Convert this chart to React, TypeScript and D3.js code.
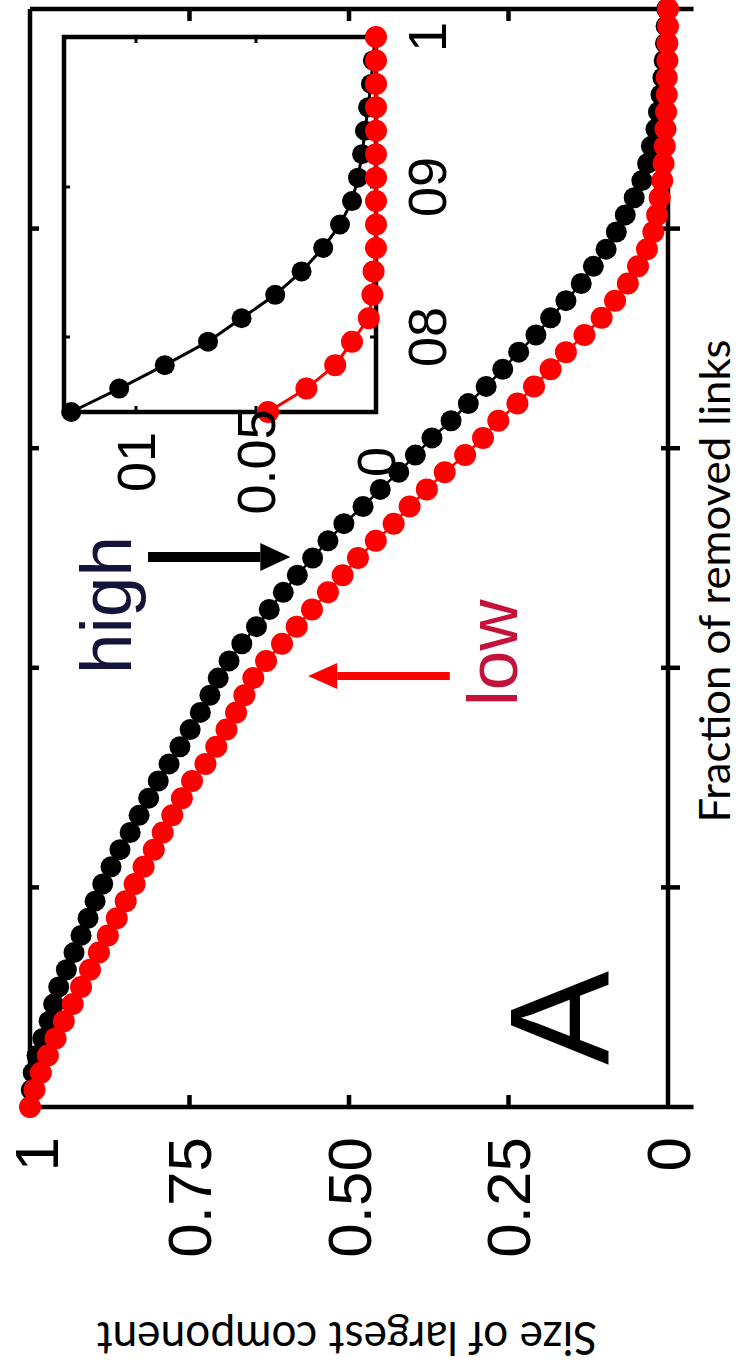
import React, { useEffect, useRef } from "react";
import * as d3 from "d3";

// percolation curves, sampled every 1/64 of removed links
const STEPS = 64;

const highSize = [
  1.0, 0.998, 0.995, 0.989, 0.98, 0.97, 0.963, 0.955, 0.943, 0.931,
  0.92, 0.909, 0.898, 0.886, 0.873, 0.859, 0.843, 0.829, 0.814, 0.799,
  0.782, 0.765, 0.749, 0.733, 0.718, 0.705, 0.688, 0.668, 0.645, 0.625,
  0.603, 0.581, 0.557, 0.533, 0.508, 0.478, 0.451, 0.422, 0.396, 0.37,
  0.34, 0.313, 0.285, 0.259, 0.234, 0.207, 0.184, 0.16, 0.136, 0.117,
  0.097, 0.081, 0.067, 0.053, 0.041, 0.032, 0.026, 0.019, 0.015, 0.011,
  0.008, 0.006, 0.004, 0.003, 0.002,
];

const lowSize = [
  1.0, 0.993, 0.983, 0.972, 0.96, 0.947, 0.933, 0.92, 0.906, 0.892,
  0.878, 0.864, 0.85, 0.836, 0.822, 0.806, 0.792, 0.777, 0.762, 0.746,
  0.725, 0.708, 0.692, 0.677, 0.664, 0.65, 0.63, 0.605, 0.582, 0.558,
  0.533, 0.51, 0.486, 0.458, 0.43, 0.405, 0.378, 0.35, 0.318, 0.29,
  0.266, 0.236, 0.21, 0.184, 0.16, 0.131, 0.104, 0.083, 0.063, 0.047,
  0.033, 0.023, 0.017, 0.013, 0.009, 0.007, 0.005, 0.004, 0.003, 0.002,
  0.002, 0.001, 0.001, 0.0, 0.0,
];

// inset: zoom on the tail, from 0.75 to 1
const INSET_START = 0.75;
const insetHigh = [
  0.127, 0.107, 0.088, 0.07, 0.056, 0.042, 0.031, 0.022, 0.015, 0.01,
  0.0075, 0.0058, 0.0046, 0.0033, 0.0021, 0.0013, 0.0004,
];
const insetLow = [
  0.045, 0.029, 0.017, 0.01, 0.003, 0.0015, 0.001, 0, 0, 0, 0, 0, 0, 0, 0, 0, 0,
];

const sizeTicks = [0, 0.25, 0.5, 0.75, 1];
const sizeTickLabels = ["0", "0.25", "0.50", "0.75", "1"];
const fracTicks = [0.2, 0.4, 0.6, 0.8];
const insetFracTicks = [0.8, 0.9, 1];
const insetFracLabels = ["08", "09", "1"];
const insetSizeTicks = [0, 0.05, 0.1];
const insetSizeLabels = ["0", "0.05", "01"];

const W = 741;
const H = 1371;
const RED = "#ff0000";

export default function App() {
  const ref = useRef<SVGSVGElement>(null);

  useEffect(() => {
    if (!ref.current) return;
    const svg = d3.select(ref.current);
    svg.selectAll("*").remove();

    // the figure is printed turned 90deg: size runs right->left, fraction bottom->top
    const size = d3.scaleLinear().domain([0, 1]).range([668, 30]);
    const frac = d3.scaleLinear().domain([0, 1]).range([1107, 9]);

    const axis = svg.append("g").attr("stroke", "#000").attr("stroke-width", 4.5);
    const x0 = size(1);
    const x1 = size(-0.04);
    axis.append("line").attr("x1", x0).attr("x2", x1).attr("y1", frac(0)).attr("y2", frac(0));
    axis.append("line").attr("x1", x0).attr("x2", x1).attr("y1", frac(1)).attr("y2", frac(1));
    axis.append("line").attr("x1", x0).attr("x2", x0).attr("y1", frac(0)).attr("y2", frac(1));
    axis.append("line").attr("x1", size(0)).attr("x2", size(0)).attr("y1", frac(0)).attr("y2", frac(1));

    sizeTicks.filter((v) => v > 0 && v < 1).forEach((v) => {
      axis.append("line").attr("x1", size(v)).attr("x2", size(v)).attr("y1", frac(0)).attr("y2", frac(0) - 12);
      axis.append("line").attr("x1", size(v)).attr("x2", size(v)).attr("y1", frac(1)).attr("y2", frac(1) + 12);
    });
    fracTicks.forEach((f) => {
      axis.append("line").attr("x1", x0).attr("x2", x0 + 9).attr("y1", frac(f)).attr("y2", frac(f));
      axis.append("line").attr("x1", size(0) - 7).attr("x2", size(0) + 12).attr("y1", frac(f)).attr("y2", frac(f));
    });

    // keep the "1" label inside the page edge
    svg
      .append("g")
      .selectAll("text")
      .data(sizeTicks)
      .join("text")
      .attr("transform", (v) => `translate(${Math.max(size(v), 36)},1137) rotate(-90)`)
      .attr("text-anchor", "end")
      .attr("dy", "0.35em")
      .attr("font-family", "Liberation Sans, Arial, sans-serif")
      .attr("font-size", 62)
      .text((_, i) => sizeTickLabels[i]);

    const drawSeries = (
      g: any,
      values: number[],
      start: number,
      xs: any,
      ys: any,
      color: string,
      r: number,
      lw: number
    ) => {
      const pts = values.map((v, i) => ({ f: start + i / STEPS, v }));
      const line = d3
        .line<{ f: number; v: number }>()
        .x((d) => xs(d.v))
        .y((d) => ys(d.f));
      g.append("path").attr("d", line(pts)).attr("fill", "none").attr("stroke", color).attr("stroke-width", lw);
      g.append("g")
        .selectAll("circle")
        .data(pts)
        .join("circle")
        .attr("cx", (d) => xs(d.v))
        .attr("cy", (d) => ys(d.f))
        .attr("r", r)
        .attr("fill", color);
    };

    const main = svg.append("g");
    drawSeries(main, highSize, 0, size, frac, "#000", 10.5, 2.5);
    drawSeries(main, lowSize, 0, size, frac, RED, 11, 2.5);

    // inset
    const iSize = d3.scaleLinear().domain([0, 0.13]).range([376, 64]);
    const iFrac = d3.scaleLinear().domain([INSET_START, 1]).range([412, 37]);
    const inset = svg.append("g");
    inset
      .append("rect")
      .attr("x", iSize(0.13))
      .attr("y", iFrac(1))
      .attr("width", iSize(0) - iSize(0.13))
      .attr("height", iFrac(INSET_START) - iFrac(1))
      .attr("fill", "#fff")
      .attr("stroke", "#000")
      .attr("stroke-width", 4.5);
    const iTicks = inset.append("g").attr("stroke", "#000").attr("stroke-width", 3);
    insetFracTicks.filter((f) => f < 1).forEach((f) => {
      iTicks.append("line").attr("x1", iSize(0.13)).attr("x2", iSize(0.13) + 6).attr("y1", iFrac(f)).attr("y2", iFrac(f));
      iTicks.append("line").attr("x1", iSize(0)).attr("x2", iSize(0) - 6).attr("y1", iFrac(f)).attr("y2", iFrac(f));
    });
    insetSizeTicks.filter((v) => v > 0).forEach((v) => {
      iTicks.append("line").attr("x1", iSize(v)).attr("x2", iSize(v)).attr("y1", iFrac(1)).attr("y2", iFrac(1) + 6);
      iTicks.append("line").attr("x1", iSize(v)).attr("x2", iSize(v)).attr("y1", iFrac(INSET_START)).attr("y2", iFrac(INSET_START) - 6);
    });
    drawSeries(inset, insetHigh, INSET_START, iSize, iFrac, "#000", 10, 3);
    drawSeries(inset, insetLow, INSET_START, iSize, iFrac, RED, 11, 3);

    inset
      .append("g")
      .selectAll("text")
      .data(insetFracTicks)
      .join("text")
      .attr("transform", (f) => `translate(427,${iFrac(f)}) rotate(-90)`)
      .attr("text-anchor", "middle")
      .attr("dy", "0.35em")
      .attr("font-family", "Liberation Sans, Arial, sans-serif")
      .attr("font-size", 54)
      .text((_, i) => insetFracLabels[i]);
    inset
      .append("g")
      .selectAll("text")
      .data(insetSizeTicks)
      .join("text")
      .attr("transform", (v) => `translate(${iSize(v)},462) rotate(-90)`)
      .attr("text-anchor", "middle")
      .attr("dy", "0.35em")
      .attr("font-family", "Liberation Sans, Arial, sans-serif")
      .attr("font-size", 54)
      .text((_, i) => insetSizeLabels[i]);

    // annotations
    const arrow = (f: number, from: number, to: number, color: string, w: number, head: number, half: number) => {
      const y = frac(f);
      const tip = size(to);
      const dir = Math.sign(size(to) - size(from));
      const base = tip - dir * head;
      svg.append("line").attr("x1", size(from)).attr("x2", base).attr("y1", y).attr("y2", y).attr("stroke", color).attr("stroke-width", w);
      svg.append("path").attr("d", `M${tip},${y}L${base},${y - half}L${base},${y + half}Z`).attr("fill", color);
    };
    arrow(0.501, 0.815, 0.592, "#000", 10, 30, 14);
    arrow(0.3925, 0.342, 0.564, RED, 8, 29, 13);

    const label = (t: string, x: number, y: number, fs: number, fill: string, anchor: string) =>
      svg
        .append("text")
        .attr("transform", `translate(${x},${y}) rotate(-90)`)
        .attr("text-anchor", anchor)
        .attr("font-family", "Liberation Sans, Arial, sans-serif")
        .attr("font-size", fs)
        .attr("fill", fill)
        .text(t);
    label("high", 131, 674, 73, "#14143a", "start");
    label("low", 517, 706, 71, "#c4123a", "start");
    label("A", 608, 1018, 141, "#000", "middle");

    svg
      .append("text")
      .attr("transform", "translate(730,581) rotate(-90)")
      .attr("text-anchor", "middle")
      .attr("font-family", "Lato, Open Sans, sans-serif")
      .attr("font-size", 43)
      .attr("textLength", 483)
      .attr("lengthAdjust", "spacingAndGlyphs")
      .text("Fraction of removed links");
    svg
      .append("text")
      .attr("transform", "translate(347,1322) rotate(180)")
      .attr("text-anchor", "middle")
      .attr("font-family", "Lato, Open Sans, sans-serif")
      .attr("font-size", 46)
      .attr("textLength", 500)
      .attr("lengthAdjust", "spacingAndGlyphs")
      .text("Size of largest component");
  }, []);

  return (
    <>
      <style>{"body{margin:0}"}</style>
      <svg ref={ref} width={W} height={H} style={{ display: "block", background: "#fff" }} />
    </>
  );
}
